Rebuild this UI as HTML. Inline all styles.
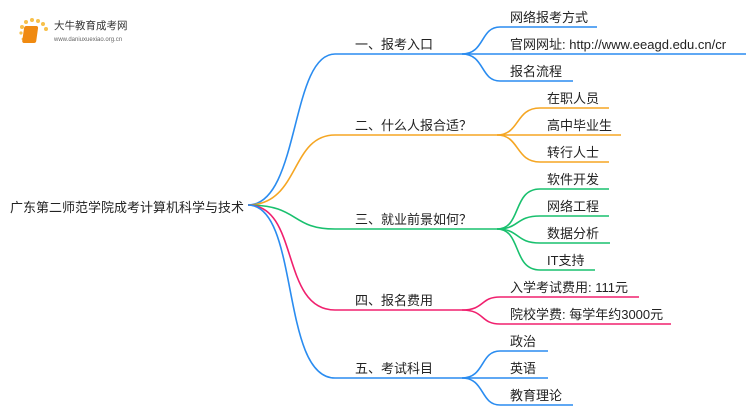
<!DOCTYPE html>
<html><head><meta charset="utf-8"><style>
body{margin:0;width:750px;height:410px;background:#fff;overflow:hidden}
text{font-family:"Liberation Sans","Noto Sans CJK SC",sans-serif;font-size:13px;fill:#222}
path{fill:none;stroke-width:1.6}
</style></head><body>
<svg width="750" height="410" viewBox="0 0 750 410" xmlns="http://www.w3.org/2000/svg">
<g>
<circle cx="22" cy="27" r="2" fill="#f7c04a"/><circle cx="26" cy="22" r="2" fill="#f7c04a"/><circle cx="32" cy="20" r="2" fill="#f7c04a"/><circle cx="38" cy="21" r="2" fill="#f7c04a"/><circle cx="43" cy="24" r="2" fill="#f7c04a"/><circle cx="46" cy="29" r="2" fill="#f7c04a"/><circle cx="21" cy="33" r="1.6" fill="#f7c04a"/><circle cx="23" cy="39" r="1.4" fill="#f7c04a"/>
<rect x="28" y="26" width="14" height="17" rx="2" fill="#f08a10" transform="skewX(-8)"/>
<text x="54" y="29" style="font-size:10.5px;fill:#333">大牛教育成考网</text>
<text x="54" y="41" style="font-size:6px;fill:#666">www.daniuxuexiao.org.cn</text>
</g>
<text x="10" y="212">广东第二师范学院成考计算机科学与技术</text>
<path d="M248 205 C300 205 290 54 335 54 L462 54" stroke="#2a8cf0"/>
<path d="M248 205 C300 205 290 135 335 135 L497 135" stroke="#f5a623"/>
<path d="M248 205 C300 205 290 229 335 229 L497 229" stroke="#19c06e"/>
<path d="M248 205 C300 205 280 310 335 310 L462 310" stroke="#f0206e"/>
<path d="M248 205 C300 205 280 378 335 378 L462 378" stroke="#2a8cf0"/>
<text x="355" y="49">一、报考入口</text>
<text x="355" y="130">二、什么人报合适？</text>
<text x="355" y="224">三、就业前景如何？</text>
<text x="355" y="305">四、报名费用</text>
<text x="355" y="373">五、考试科目</text>
<g stroke="#2a8cf0">
<path d="M462 54 C485 54 480 27 500 27 L597 27"/>
<path d="M462 54 L746 54"/>
<path d="M462 54 C485 54 480 81 500 81 L573 81"/>
</g>
<text x="510" y="22">网络报考方式</text>
<text x="510" y="49">官网网址: http://www.eeagd.edu.cn/cr</text>
<text x="510" y="76">报名流程</text>
<g stroke="#f5a623">
<path d="M497 135 C520 135 515 108 540 108 L609 108"/>
<path d="M497 135 L621 135"/>
<path d="M497 135 C520 135 515 162 540 162 L609 162"/>
</g>
<text x="547" y="103">在职人员</text>
<text x="547" y="130">高中毕业生</text>
<text x="547" y="157">转行人士</text>
<g stroke="#19c06e">
<path d="M497 229 C522 229 512 189 540 189 L609 189"/>
<path d="M497 229 C520 229 515 216 540 216 L609 216"/>
<path d="M497 229 C520 229 515 243 540 243 L610 243"/>
<path d="M497 229 C522 229 512 270 540 270 L595 270"/>
</g>
<text x="547" y="184">软件开发</text>
<text x="547" y="211">网络工程</text>
<text x="547" y="238">数据分析</text>
<text x="547" y="265">IT支持</text>
<g stroke="#f0206e">
<path d="M462 310 C485 310 480 297 500 297 L639 297"/>
<path d="M462 310 C485 310 480 324 500 324 L671 324"/>
</g>
<text x="510" y="292">入学考试费用: 111元</text>
<text x="510" y="319">院校学费: 每学年约3000元</text>
<g stroke="#2a8cf0">
<path d="M462 378 C485 378 480 351 500 351 L548 351"/>
<path d="M462 378 L548 378"/>
<path d="M462 378 C485 378 480 405 500 405 L573 405"/>
</g>
<text x="510" y="346">政治</text>
<text x="510" y="373">英语</text>
<text x="510" y="400">教育理论</text>
</svg>
</body></html>
